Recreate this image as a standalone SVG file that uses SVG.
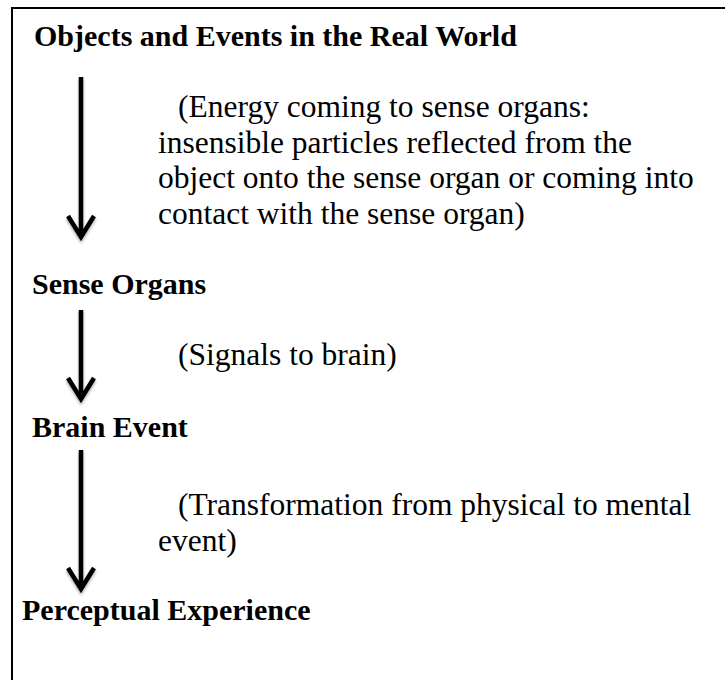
<svg xmlns="http://www.w3.org/2000/svg" width="725" height="680" viewBox="0 0 725 680">
<style>
.h{font-family:"Liberation Serif","Times New Roman",serif;font-weight:bold;font-size:30px;fill:#000}
.t{font-family:"Liberation Serif","Times New Roman",serif;font-size:31.5px;fill:#000}
.ar{fill:none;stroke:#000;stroke-width:4.5;stroke-linecap:butt;stroke-linejoin:miter}
</style>
<defs>
<filter id="sh" x="-50%" y="-10%" width="200%" height="120%">
<feDropShadow dx="0" dy="2" stdDeviation="1.5" flood-color="#000" flood-opacity="0.35"/>
</filter>
</defs>
<rect width="725" height="680" fill="#fff"/>
<rect x="12" y="8" width="760" height="720" fill="none" stroke="#000" stroke-width="2"/>
<g id="n1"><text class="h" x="34" y="46">Objects and Events in the Real World</text></g>
<g id="l1">
<text class="t" x="178" y="117">(Energy coming to sense organs:</text>
<text class="t" x="158" y="152.5">insensible particles reflected from the</text>
<text class="t" x="158" y="188">object onto the sense organ or coming into</text>
<text class="t" x="158" y="223.5">contact with the sense organ)</text>
</g>
<g id="n2"><text class="h" x="32" y="294">Sense Organs</text></g>
<g id="l2"><text class="t" x="178" y="365">(Signals to brain)</text></g>
<g id="n3"><text class="h" x="32" y="436.5">Brain Event</text></g>
<g id="l3">
<text class="t" x="178" y="515">(Transformation from physical to mental</text>
<text class="t" x="158" y="550.5">event)</text>
</g>
<g id="n4"><text class="h" x="22" y="620">Perceptual Experience</text></g>
<g id="connectors" filter="url(#sh)">
<path class="ar" d="M81,77 V236 M68,216 L81,237 L94,216"/>
<path class="ar" d="M81,310 V398 M68,378 L81,399 L94,378"/>
<path class="ar" d="M81,450 V588 M68,568 L81,589 L94,568"/>
</g>
</svg>
